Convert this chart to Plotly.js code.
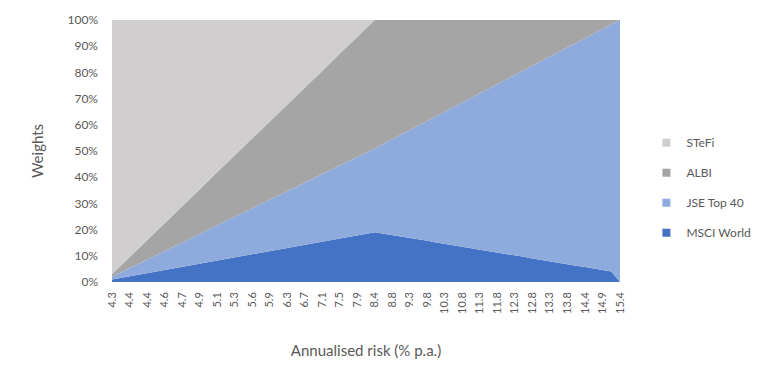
<!DOCTYPE html>
<html>
<head>
<meta charset="utf-8">
<script src="https://cdn.plot.ly/plotly-3.0.1.min.js"></script>
<style>html,body{margin:0;padding:0;background:#fff;}#chart{width:768px;height:382px;}</style>
</head>
<body>
<div id="chart"></div>
<script>
// Annualised risk (% p.a.) for each portfolio on the frontier (every second one is labelled)
const riskLabels = [4.3,4.3,4.4,4.4,4.4,4.5,4.6,4.6,4.7,4.8,4.9,5.0,5.1,5.2,5.3,5.5,5.6,5.8,5.9,6.1,
  6.3,6.5,6.7,6.9,7.1,7.3,7.5,7.7,7.9,8.2,8.4,8.6,8.8,9.1,9.3,9.6,9.8,10.1,10.3,10.6,
  10.8,11.1,11.3,11.6,11.8,12.1,12.3,12.6,12.8,13.1,13.3,13.6,13.8,14.1,14.4,14.6,14.9,15.1,15.4];

// Weights (%)
const msciWorld = [1.0,1.6,2.2,2.8,3.4,4.0,4.6,5.2,5.8,6.4,7.0,7.6,8.2,8.8,9.4,10.0,10.6,11.2,11.8,12.4,
  13.0,13.6,14.2,14.8,15.4,16.0,16.6,17.2,17.8,18.4,19.0,18.4,17.9,17.3,16.8,16.2,15.7,15.1,14.6,14.0,
  13.4,12.9,12.3,11.8,11.2,10.7,10.1,9.6,9.0,8.4,7.9,7.3,6.8,6.2,5.7,5.1,4.6,4.0,0.0];
const jseTop40 = [1.0,2.0,3.1,4.1,5.1,6.2,7.2,8.2,9.3,10.3,11.3,12.4,13.4,14.4,15.5,16.5,17.5,18.6,19.6,20.6,
  21.7,22.7,23.7,24.8,25.8,26.8,27.9,28.9,29.9,31.0,32.0,34.4,36.6,39.0,41.2,43.6,45.8,48.2,50.4,52.8,
  55.1,57.4,59.7,62.0,64.3,66.6,68.9,71.2,73.5,75.9,78.1,80.5,82.7,85.1,87.3,89.7,91.9,94.3,100.0];
const albi = [1.0,2.6,4.2,5.8,7.4,9.0,10.6,12.2,13.8,15.4,17.0,18.6,20.2,21.8,23.4,25.0,26.6,28.2,29.8,31.4,
  33.0,34.6,36.2,37.8,39.4,41.0,42.6,44.2,45.8,47.4,49.0,47.2,45.5,43.7,42.0,40.2,38.5,36.7,35.0,33.2,
  31.5,29.7,28.0,26.2,24.5,22.7,21.0,19.2,17.5,15.7,14.0,12.2,10.5,8.7,7.0,5.2,3.5,1.7,0.0];
const stefi = [97.0,93.8,90.5,87.3,84.1,80.8,77.6,74.4,71.1,67.9,64.7,61.4,58.2,55.0,51.7,48.5,45.3,42.0,38.8,35.6,
  32.3,29.1,25.9,22.6,19.4,16.2,12.9,9.7,6.5,3.2,0,0,0,0,0,0,0,0,0,0,
  0,0,0,0,0,0,0,0,0,0,0,0,0,0,0,0,0,0,0];

const seriesNames = ['MSCI World','JSE Top 40','ALBI','STeFi'];
const seriesData = [msciWorld, jseTop40, albi, stefi];
const seriesColors = ['#4472C4','#8FAADC','#A5A5A5','#D0CECE'];

const xs = riskLabels.map((_, i) => i);
const tickIdx = xs.filter(i => i % 2 === 0);

const areaTraces = seriesData.map((d, k) => ({
  x: xs, y: d, name: seriesNames[k], type: 'scatter', mode: 'lines',
  stackgroup: 'one', line: {width: 0, color: seriesColors[k]}, fillcolor: seriesColors[k],
  showlegend: false, hoverinfo: 'skip'
}));
// legend entries with square keys (no data drawn); top of stack listed first
const legendTraces = seriesNames.map((n, k) => ({
  x: [null], y: [null], name: n, type: 'scatter', mode: 'markers',
  marker: {symbol: 'square', size: 8, color: seriesColors[k]},
  legendgroup: 'g' + k, legendrank: seriesNames.length - k, showlegend: true, hoverinfo: 'skip'
}));

const font = 'Lato, "Open Sans", sans-serif';
const layout = {
  width: 768, height: 382,
  margin: {l: 112, r: 119, t: 20, b: 100},
  paper_bgcolor: '#ffffff', plot_bgcolor: '#ffffff',
  font: {family: font, color: '#595959', size: 12},
  showlegend: true,
  legend: {x: 1.052, xanchor: 'left', y: 0.36, yanchor: 'middle', traceorder: 'grouped',
    tracegroupgap: 11, font: {size: 12, color: '#595959', family: font}, itemwidth: 30},
  xaxis: {range: [0, 58], tickmode: 'array', tickvals: tickIdx,
    ticktext: tickIdx.map(i => riskLabels[i].toFixed(1)), tickangle: -90,
    tickfont: {size: 11, color: '#595959'}, showgrid: false, zeroline: false, ticks: '',
    ticklabelstandoff: 7, showline: false, fixedrange: true,
    title: {text: 'Annualised risk (% p.a.)', font: {size: 15, color: '#595959'}, standoff: 32}},
  yaxis: {range: [0, 100], tickmode: 'linear', tick0: 0, dtick: 10, ticksuffix: '%',
    tickfont: {size: 12, color: '#595959'}, showgrid: false, zeroline: false, ticks: '',
    ticklabelstandoff: 13, showline: false, fixedrange: true,
    title: {text: 'Weights', font: {size: 15, color: '#595959'}, standoff: 20}}
};

Plotly.newPlot('chart', areaTraces.concat(legendTraces), layout, {displayModeBar: false, staticPlot: true});
</script>
</body>
</html>
